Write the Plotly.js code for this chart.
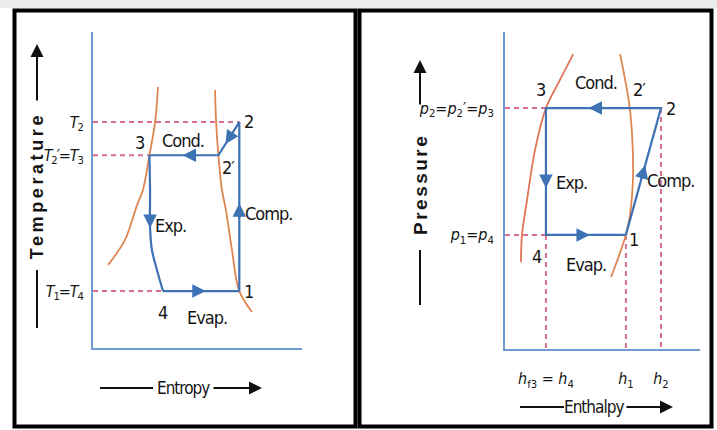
<!DOCTYPE html>
<html><head><meta charset="utf-8">
<script src="https://cdn.plot.ly/plotly-3.0.1.min.js"></script>
<style>
html,body{margin:0;padding:0;background:#fff;}
#chart{width:717px;height:430px;}
.annotation-text{letter-spacing:-1px;}
.xtick text,.ytick text{letter-spacing:-1.1px;}
</style>
</head><body><div id="chart"></div>
<script>
// ---------------- T–s diagram (schematic units) ----------------
const tsStateNames = ['1', '2', '2′', '3', '4'];
const tsEntropy    = [7.0, 7.0, 6.0, 2.7, 3.35];
const tsTemp       = [1.8, 7.15, 6.1, 6.1, 1.8];
const tsLiquidS = [3.11, 2.97, 2.7, 2.39, 2.11, 1.53, 0.72];
const tsLiquidT = [8.26, 7.15, 6.1, 5.0, 4.53, 3.42, 2.63];
const tsVapourS = [5.84, 5.89, 6.0, 6.17, 6.36, 6.65, 7.0, 7.61];
const tsVapourT = [8.16, 7.15, 6.1, 5.0, 4.37, 3.1, 1.8, 1.14];
const tsExpS = [2.7, 2.73, 2.73, 2.82, 3.06, 3.35];
const tsExpT = [6.1, 5.0, 3.8, 3.1, 2.47, 1.8];
const tsTickText = ['<i>T</i><sub>1</sub>=<i>T</i><sub>4</sub>', '<i>T</i><sub>2</sub>′=<i>T</i><sub>3</sub>', '<i>T</i><sub>2</sub>'];

// ---------------- p–h diagram (schematic units) ----------------
const phStateNames = ['1', '2', '2′', '3', '4'];
const phEnthalpy   = [6.2, 8.0, 6.4, 2.1, 2.1];
const phPressure   = [3.6, 7.6, 7.6, 7.6, 3.6];
const phLiquidH = [3.5, 2.82, 2.1, 1.54, 1.13, 0.87, 0.82];
const phLiquidP = [9.3, 8.49, 7.6, 6.28, 4.70, 3.6, 2.74];
const phVapourH = [5.9, 6.4, 6.55, 6.56, 6.41, 6.2, 5.44];
const phVapourP = [9.3, 7.6, 6.3, 5.33, 4.23, 3.6, 2.27];
const phPTickText = ['<i>p</i><sub>1</sub>=<i>p</i><sub>4</sub>', '<i>p</i><sub>2</sub>=<i>p</i><sub>2</sub>′=<i>p</i><sub>3</sub>'];
const phHTickText = ['<i>h</i><sub>f3</sub> = <i>h</i><sub>4</sub>', '<i>h</i><sub>1</sub>', '<i>h</i><sub>2</sub>'];

// ---------------- styling ----------------
const W = 717, H = 430;
const px = v => v / W, py = v => 1 - v / H;
const BLUE = '#3d72b4', AXIS = '#6e9bd2', DASH = '#d9708f', ORANGE = '#de8552', INK = '#151515';
const NARROW = 'Liberation Sans Narrow, DejaVu Sans Condensed, Liberation Sans, sans-serif';
const SANS = 'Liberation Sans, Arial, sans-serif';

const S = i => tsEntropy[i], T = i => tsTemp[i];
const Hh = i => phEnthalpy[i], P = i => phPressure[i];

const dashLine = {color: DASH, width: 2, dash: '5px,4px'};
const cycLine = {color: BLUE, width: 2.2};
const orLine = {color: ORANGE, width: 1.8, shape: 'spline', smoothing: 1};

const traces = [
  // T-s
  {x: [0, S(1), null, 0, S(3), null, 0, S(4)], y: [T(1), T(1), null, T(3), T(3), null, T(0), T(0)],
   xaxis: 'x', yaxis: 'y', mode: 'lines', line: dashLine, hoverinfo: 'skip'},
  {x: tsLiquidS, y: tsLiquidT, xaxis: 'x', yaxis: 'y', mode: 'lines', line: orLine, hoverinfo: 'skip'},
  {x: tsVapourS, y: tsVapourT, xaxis: 'x', yaxis: 'y', mode: 'lines', line: orLine, hoverinfo: 'skip'},
  {x: [S(0), S(1), S(2), S(3)], y: [T(0), T(1), T(2), T(3)], xaxis: 'x', yaxis: 'y', mode: 'lines', line: cycLine, hoverinfo: 'skip'},
  {x: tsExpS, y: tsExpT, xaxis: 'x', yaxis: 'y', mode: 'lines', line: Object.assign({}, cycLine, {shape: 'spline'}), hoverinfo: 'skip'},
  {x: [S(4), S(0)], y: [T(4), T(0)], xaxis: 'x', yaxis: 'y', mode: 'lines', line: cycLine, hoverinfo: 'skip'},
  // p-h
  {x: [0, Hh(3), null, 0, Hh(4), null, Hh(4), Hh(4), null, Hh(0), Hh(0), null, Hh(1), Hh(1)],
   y: [P(3), P(3), null, P(4), P(4), null, P(4), 0, null, P(0), 0, null, P(1), 0],
   xaxis: 'x2', yaxis: 'y2', mode: 'lines', line: dashLine, hoverinfo: 'skip'},
  {x: phLiquidH, y: phLiquidP, xaxis: 'x2', yaxis: 'y2', mode: 'lines', line: Object.assign({}, orLine, {color: '#e07558'}), hoverinfo: 'skip'},
  {x: phVapourH, y: phVapourP, xaxis: 'x2', yaxis: 'y2', mode: 'lines', line: orLine, hoverinfo: 'skip'},
  {x: [Hh(0), Hh(1), Hh(3), Hh(4), Hh(0)], y: [P(0), P(1), P(3), P(4), P(0)], xaxis: 'x2', yaxis: 'y2', mode: 'lines', line: cycLine, hoverinfo: 'skip'}
];

// arrowheads placed along cycle segments
function arrowOn(xa, ya, x0, y0, x1, y1, f, back) {
  const hx = x0 + (x1 - x0) * f, hy = y0 + (y1 - y0) * f;
  const tx = x0 + (x1 - x0) * (f - back), ty = y0 + (y1 - y0) * (f - back);
  return {x: hx, y: hy, ax: tx, ay: ty, xref: xa, yref: ya, axref: xa, ayref: ya, text: '',
          showarrow: true, arrowhead: 2, arrowsize: 1.35, arrowwidth: 2, arrowcolor: BLUE, standoff: 0};
}
const ann = [
  arrowOn('x', 'y', S(0), T(0), S(1), T(1), 0.52, 0.1),
  arrowOn('x', 'y', S(1), T(1), S(2), T(2), 0.66, 0.3),
  arrowOn('x', 'y', S(2), T(2), S(3), T(3), 0.52, 0.1),
  arrowOn('x', 'y', tsExpS[1], tsExpT[1], tsExpS[2], tsExpT[2], 1.0, 0.4),
  arrowOn('x', 'y', S(4), T(4), S(0), T(0), 0.56, 0.1),
  arrowOn('x2', 'y2', Hh(1), P(1), Hh(3), P(3), 0.63, 0.1),
  arrowOn('x2', 'y2', Hh(3), P(3), Hh(4), P(4), 0.63, 0.1),
  arrowOn('x2', 'y2', Hh(0), P(0), Hh(1), P(1), 0.55, 0.12),
  arrowOn('x2', 'y2', Hh(4), P(4), Hh(0), P(0), 0.55, 0.1)
];

function lab(text, xa, ya, x, y, dx, dy, size) {
  return {text: text, xref: xa, yref: ya, x: x, y: y, xshift: dx, yshift: dy, showarrow: false,
          xanchor: 'center', yanchor: 'middle',
          font: {family: NARROW, size: size || 18, color: INK}};
}
// T-s point / process labels
ann.push(lab(tsStateNames[0], 'x', 'y', S(0), T(0), 9, 0));
ann.push(lab(tsStateNames[1], 'x', 'y', S(1), T(1), 9, 1));
ann.push(lab(tsStateNames[2], 'x', 'y', S(2), T(2), 10, -12));
ann.push(lab(tsStateNames[3], 'x', 'y', S(3), T(3), -9, 13));
ann.push(lab(tsStateNames[4], 'x', 'y', S(4), T(4), 0, -21));
ann.push(lab('Cond.', 'x', 'y', (S(2) + S(3)) / 2, T(3), -1, 15));
ann.push(lab('Comp.', 'x', 'y', S(1), (T(0) + T(1)) / 2, 29, -7));
ann.push(lab('Exp.', 'x', 'y', tsExpS[2], tsExpT[2], 20, 2));
ann.push(lab('Evap.', 'x', 'y', (S(4) + S(0)) / 2, T(0), 6, -26));
// p-h point / process labels
ann.push(lab(phStateNames[0], 'x2', 'y2', Hh(0), P(0), 8, -5));
ann.push(lab(phStateNames[1], 'x2', 'y2', Hh(1), P(1), 9, 0));
ann.push(lab(phStateNames[2], 'x2', 'y2', Hh(2), P(2), 10, 19));
ann.push(lab(phStateNames[3], 'x2', 'y2', Hh(3), P(3), -5, 19));
ann.push(lab(phStateNames[4], 'x2', 'y2', Hh(4), P(4), -9, -22));
ann.push(lab('Cond.', 'x2', 'y2', (Hh(3) + Hh(1)) / 2, P(3), -7, 26));
ann.push(lab('Exp.', 'x2', 'y2', Hh(3), (P(3) + P(4)) / 2, 26, -11));
ann.push(lab('Comp.', 'x2', 'y2', (Hh(0) + Hh(1)) / 2, (P(0) + P(1)) / 2, 27, -9));
ann.push(lab('Evap.', 'x2', 'y2', (Hh(4) + Hh(0)) / 2, P(0), 0, -30));

// axis titles with arrow decorations
function ptxt(text, x, y, font, angle) {
  return {text: text, xref: 'paper', yref: 'paper', x: px(x), y: py(y), xanchor: 'center', yanchor: 'middle',
          textangle: angle || 0, showarrow: false, font: font};
}
ann.push(ptxt('Entropy', 183, 388, {family: NARROW, size: 17, color: INK}));
ann.push(ptxt('Enthalpy', 594, 407, {family: NARROW, size: 17, color: INK}));
const iTemp = ann.length;
ann.push(ptxt('Temperature', 37, 185, {family: SANS, size: 18, color: INK, weight: 'bold'}, -90));
const iPres = ann.length;
ann.push(ptxt('Pressure', 420, 184, {family: SANS, size: 19, color: INK, weight: 'bold'}, -90));
function blackArrow(hx, hy, ax, ay) {
  return {text: '', xref: 'paper', yref: 'paper', x: px(hx), y: py(hy), ax: ax, ay: ay, showarrow: true,
          arrowhead: 2, arrowsize: 1.3, arrowwidth: 2, arrowcolor: '#111', standoff: 0};
}
ann.push(blackArrow(262, 388, -50, 0));
ann.push(blackArrow(673, 407, -48, 0));
ann.push(blackArrow(37, 44, 0, 58));
ann.push(blackArrow(420, 60, 0, 46));

function pline(x0, y0, x1, y1, c, w) {
  return {type: 'line', xref: 'paper', yref: 'paper', x0: px(x0), y0: py(y0), x1: px(x1), y1: py(y1),
          line: {color: c || '#111', width: w || 2}};
}
const shapes = [
  {type: 'rect', xref: 'paper', yref: 'paper', x0: 0, x1: 1, y0: py(0), y1: py(8), fillcolor: '#ebebeb', line: {width: 0}, layer: 'below'},
  {type: 'rect', xref: 'paper', yref: 'paper', x0: px(14.5), x1: px(355.5), y0: py(10.5), y1: py(426.5), line: {color: '#000', width: 4}},
  {type: 'rect', xref: 'paper', yref: 'paper', x0: px(359.5), x1: px(711.5), y0: py(10.5), y1: py(426.5), line: {color: '#000', width: 4}},
  pline(100, 388, 153, 388),
  pline(520, 407, 564, 407),
  pline(37, 328, 37, 270),
  pline(420, 305, 420, 250)
];

// wider tracking for the two rotated bold axis titles
const st = document.createElement('style');
st.textContent = 'g.annotation[data-index="' + iTemp + '"] .annotation-text{letter-spacing:3.6px;}' +
                 'g.annotation[data-index="' + iPres + '"] .annotation-text{letter-spacing:2.5px;}';
document.head.appendChild(st);

const axBase = {showgrid: false, zeroline: false, showline: true, linecolor: AXIS, linewidth: 2,
                range: [0, 10], fixedrange: true};
const tickFont = {family: NARROW, size: 16, color: INK};
const layout = {
  width: W, height: H, margin: {l: 0, r: 0, t: 0, b: 0}, showlegend: false,
  paper_bgcolor: '#fff', plot_bgcolor: 'rgba(0,0,0,0)',
  xaxis: Object.assign({}, axBase, {domain: [px(93), px(302)], anchor: 'y', showticklabels: false, ticks: ''}),
  yaxis: Object.assign({}, axBase, {domain: [py(348), py(32)], anchor: 'x', ticks: '',
          tickvals: [T(0), T(3), T(1)], ticktext: tsTickText, ticklabelstandoff: 5, tickfont: tickFont}),
  xaxis2: Object.assign({}, axBase, {domain: [px(505), px(700)], anchor: 'y2', ticks: '',
          tickvals: [Hh(4), Hh(0), Hh(1)], ticktext: phHTickText, ticklabelstandoff: 14, tickfont: tickFont}),
  yaxis2: Object.assign({}, axBase, {domain: [py(349), py(32)], anchor: 'x2', ticks: '',
          tickvals: [P(0), P(1)], ticktext: phPTickText, ticklabelstandoff: 6, tickfont: tickFont}),
  annotations: ann,
  shapes: shapes
};

Plotly.newPlot('chart', traces, layout, {staticPlot: true, displayModeBar: false});
</script>
</body></html>
